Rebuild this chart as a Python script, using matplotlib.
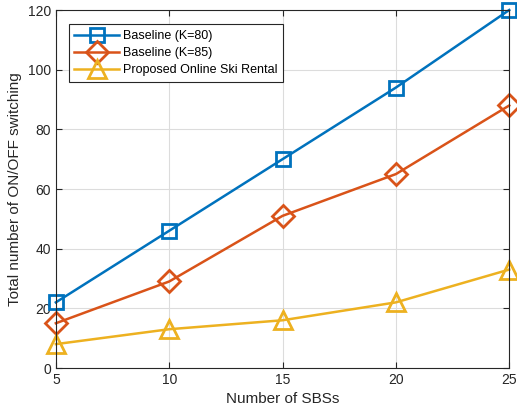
import numpy as np
import matplotlib.pyplot as plt

plt.rcParams['font.family'] = ['Liberation Sans', 'DejaVu Sans']

sbs = [5, 10, 15, 20, 25]
base_k80 = [22, 46, 70, 94, 120]
base_k85 = [15, 29, 51, 65, 88]
proposed = [8, 13, 16, 22, 33]

fig = plt.figure(figsize=(5.17, 4.17), dpi=100)
ax = fig.add_axes([0.108, 0.1175, 0.877, 0.8585])

ax.plot(sbs, base_k80, '-s', color='#0072BD', lw=1.8, ms=10, mew=2,
        mfc='none', label='Baseline (K=80)', clip_on=False)
ax.plot(sbs, base_k85, '-D', color='#D95319', lw=1.8, ms=11, mew=2,
        mfc='none', label='Baseline (K=85)', clip_on=False)
ax.plot(sbs, proposed, '-^', color='#EDB120', lw=1.8, ms=13, mew=2,
        mfc='none', label='Proposed Online Ski Rental', clip_on=False)

ax.set_xlim(5, 25)
ax.set_ylim(0, 120)
ax.set_xticks(sbs)
ax.set_yticks(np.arange(0, 121, 20))
ax.grid(True, color='#dcdcdc', lw=0.8)
ax.set_axisbelow(True)
ax.tick_params(direction='in', top=True, right=True, labelsize=10,
               colors='#262626', length=4)
for s in ax.spines.values():
    s.set_color('#262626')
    s.set_linewidth(0.8)

ax.set_xlabel('Number of SBSs', fontsize=11, color='#262626', labelpad=4)
ax.set_ylabel('Total number of ON/OFF switching', fontsize=11,
              color='#262626', labelpad=4)

leg = ax.legend(loc='upper left', bbox_to_anchor=(0.028, 0.96), fontsize=9,
                fancybox=False, edgecolor='#262626', framealpha=1,
                handlelength=3.6, borderpad=0.45, labelspacing=0.4,
                handletextpad=0.3, borderaxespad=0)
leg.get_frame().set_linewidth(0.8)

fig.savefig('out.png', dpi=100)
